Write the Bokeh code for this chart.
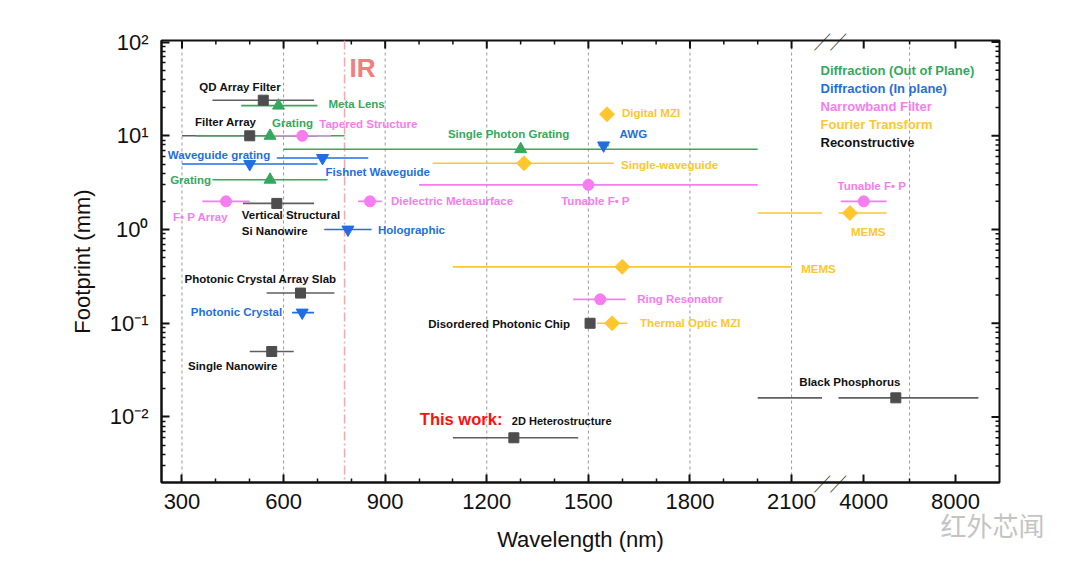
import math
from bokeh.plotting import figure
from bokeh.models import FixedTicker, Range1d, Label, Span
from bokeh.embed import file_html
from bokeh.resources import INLINE

# ---------------- data ----------------
# Reconstructive (squares)
rec_names = ["QD Array Filter", "Filter Array", "Vertical Structural\nSi Nanowire",
             "Photonic Crystal Array Slab", "Single Nanowire", "Disordered Photonic Chip",
             "2D Heterostructure", "Black Phosphorus"]
rec_wl = [540, 500, 580, 650, 565, 1505, 1280, 5400]
rec_lo = [390, 300, 480, 550, 500, 1490, 1100, 2000]
rec_hi = [690, 700, 690, 750, 630, 1520, 1470, 9000]
rec_fp = [24, 10, 1.9, 0.21, 0.05, 0.1, 0.006, 0.016]

# Diffraction (Out of Plane) (triangles)
dop_names = ["Meta Lens", "Grating", "Single Photon Grating", "Grating"]
dop_wl = [585, 560, 1300, 560]
dop_lo = [475, 340, 600, 390]
dop_hi = [700, 780, 2000, 730]
dop_fp = [21, 10, 7.2, 3.4]

# Diffraction (In plane) (inverted triangles)
dip_names = ["Waveguide grating", "Fishnet Waveguide", "Holographic", "Photonic Crystal", "AWG"]
dip_wl = [500, 715, 790, 655, 1545]
dip_lo = [300, 580, 720, 625, 1530]
dip_hi = [700, 850, 860, 690, 1560]
dip_fp = [5.0, 5.8, 1.0, 0.13, 7.9]

# Narrowband Filter (circles)
nb_names = ["Tapered Structure", "F\u2022 P Array", "Dielectric Metasurface", "Tunable F\u2022 P",
            "Ring Resonator", "Tunable F\u2022 P"]
nb_wl = [655, 430, 855, 1500, 1535, 4000]
nb_lo = [570, 360, 820, 1000, 1455, 3000]
nb_hi = [740, 500, 890, 2000, 1610, 5000]
nb_fp = [10, 2.0, 2.0, 3.0, 0.18, 2.0]

# Fourier Transform (diamonds)
ft_names = ["Digital MZI", "Single-waveguide", "MEMS", "MEMS", "Thermal Optic MZI"]
ft_wl = [1555, 1310, 1600, 3400, 1570]
ft_lo = [1555, 1040, 1100, 2000, 1525]
ft_hi = [1555, 1575, 2100, 5000, 1615]
ft_fp = [17, 5.1, 0.4, 1.5, 0.1]

legend_names = ["Diffraction (Out of Plane)", "Diffraction (In plane)", "Narrowband Filter",
                "Fourier Transform", "Reconstructive"]
x_major_left = [300, 600, 900, 1200, 1500, 1800, 2100]
x_major_right = [4000, 8000]
x_grid_right = [6000]
y_decades = [-2, -1, 0, 1, 2]
y_labels = ["10\u207b\u00b2", "10\u207b\u00b9", "10\u2070", "10\u00b9", "10\u00b2"]
ir_edge = 780

# ---------------- styling / layout ----------------
GREEN = "#35a85e"
BLUE = "#1f6fe0"
PINK = "#f77cf0"
GOLD = "#ffc62e"
DARK = "#4d4d4d"
INK = "#111111"
FONT = "Liberation Sans"

# broken axis mapping
LEFT_MAX = 2190
RIGHT_MIN = 2900
R_REF = 4000
R_POS = 2313
R_K = 271 / 4000


def xm(wl):
    if wl <= LEFT_MAX:
        return wl
    return R_POS + (wl - R_REF) * R_K


X0, X1 = 239.5, 2714.0
Y0, Y1 = 0.002, 104.0
FW, FH = 838, 442
ML, MT, MR, MB = 161, 40, 73, 82
LY0, LY1 = math.log10(Y0), math.log10(Y1)


def xdata(px):
    return X0 + px / FW * (X1 - X0)


def ydata(py):
    return 10 ** (LY0 + py / FH * (LY1 - LY0))


p = figure(width=ML + FW + MR, height=MT + FH + MB, output_backend="svg",
           toolbar_location=None, y_axis_type="log",
           x_range=Range1d(X0, X1), y_range=Range1d(Y0, Y1))
p.min_border_left = ML
p.min_border_right = MR
p.min_border_top = MT
p.min_border_bottom = MB
p.outline_line_color = INK
p.outline_line_width = 2
p.background_fill_color = "white"
p.border_fill_color = "white"
p.grid.visible = False

x_major_all = x_major_left + x_major_right
x_ticks = [xm(v) for v in x_major_all]
x_minor = [xm(v) for v in range(200, 2201, 100) if v not in x_major_left and v <= LEFT_MAX] + [xm(6000)]
x_over = {xm(v): str(v) for v in x_major_all}
y_ticks = [10.0 ** e for e in y_decades]
y_minor = [m * 10.0 ** e for e in range(-3, 2) for m in range(2, 10) if Y0 < m * 10.0 ** e < Y1]
y_over = {t: s for t, s in zip(y_ticks, y_labels)}


def style_axis(ax):
    ax.axis_line_width = 2
    ax.axis_line_color = INK
    ax.major_tick_in = 8
    ax.major_tick_out = 0
    ax.minor_tick_in = 4
    ax.minor_tick_out = 0
    ax.major_tick_line_width = 2
    ax.minor_tick_line_width = 1.5
    ax.major_tick_line_color = INK
    ax.minor_tick_line_color = INK
    ax.major_label_text_font = FONT
    ax.major_label_text_color = INK
    ax.axis_label_text_font = FONT
    ax.axis_label_text_font_style = "normal"
    ax.axis_label_text_font_size = "22px"
    ax.axis_label_text_color = INK


ax = p.xaxis[0]
style_axis(ax)
ax.ticker = FixedTicker(ticks=x_ticks, minor_ticks=x_minor)
ax.major_label_overrides = x_over
ax.major_label_text_font_size = "22px"
ax.major_label_standoff = 11
ax.axis_label = "Wavelength (nm)"
ax.axis_label_standoff = 15

ay = p.yaxis[0]
style_axis(ay)
ay.ticker = FixedTicker(ticks=y_ticks, minor_ticks=y_minor)
ay.major_label_overrides = y_over
ay.major_label_text_font_size = "22px"
ay.major_label_standoff = 13
ay.axis_label = "Footprint (mm)"
ay.axis_label_standoff = 12

# top ticks
p.segment(x0=x_ticks, x1=x_ticks, y0=[Y1] * len(x_ticks), y1=[ydata(FH - 8)] * len(x_ticks),
          line_color=INK, line_width=2)
p.segment(x0=x_minor, x1=x_minor, y0=[Y1] * len(x_minor), y1=[ydata(FH - 4)] * len(x_minor),
          line_color=INK, line_width=1.5)
# right ticks
p.segment(x0=[X1] * len(y_ticks), x1=[xdata(FW - 8)] * len(y_ticks), y0=y_ticks, y1=y_ticks,
          line_color=INK, line_width=2)
p.segment(x0=[X1] * len(y_minor), x1=[xdata(FW - 4)] * len(y_minor), y0=y_minor, y1=y_minor,
          line_color=INK, line_width=1.5)

# grid lines
for v in x_major_left + x_grid_right:
    p.add_layout(Span(location=xm(v), dimension="height", line_color="#9a9a9a",
                      line_dash="3 3", line_width=1, level="underlay"))
p.add_layout(Span(location=xm(ir_edge), dimension="height", line_color="#f7a9a9",
                  line_dash="9 3 2 3", line_width=1.5, level="underlay"))
p.add_layout(Label(x=xm(ir_edge), y=FH - 27, y_units="screen", x_offset=5, text="IR",
                   text_font=FONT, text_font_style="bold", text_font_size="26px",
                   text_color="#f27d7d", text_baseline="middle"))

series = [
    (rec_names, rec_wl, rec_lo, rec_hi, rec_fp, DARK, "#5f5f5f", "square", 10, 0),
    (dop_names, dop_wl, dop_lo, dop_hi, dop_fp, GREEN, GREEN, "triangle", 12, 0),
    (dip_names, dip_wl, dip_lo, dip_hi, dip_fp, BLUE, BLUE, "inverted_triangle", 12, 0),
    (nb_names, nb_wl, nb_lo, nb_hi, nb_fp, PINK, PINK, "circle", 11, 0),
    (ft_names, ft_wl, ft_lo, ft_hi, ft_fp, GOLD, GOLD, "square", 10.5, math.pi / 4),
]

# label layout: (align, dx px, dy px downwards)
label_layout = [
    [("center", -23, -13), ("center", -24, -14), ("left", -35, 12), ("center", -40, -14),
     ("center", -39, 15), ("right", -20, 1), ("left", -2, -17), ("center", -46, -16)],
    [("left", 50, -2), ("left", 2, -13), ("center", -12, -15), ("right", -59, 0)],
    [("left", -82, -9), ("left", 3, 14), ("left", 30, 0), ("right", -20, -1), ("left", 16, -11)],
    [("left", 17, -12), ("left", -53, 16), ("left", 21, 0), ("center", 7, 16), ("left", 37, 0),
     ("center", 8, -15)],
    [("left", 15, -1), ("left", 97, 2), ("left", 179, 2), ("left", 1, 19), ("left", 28, 0)],
]

# error bars
for names, wl, lo, hi, fp, mc, lc, mk, sz, ang in series:
    x0s, x1s, ys = [], [], []
    for a, b, y in zip(lo, hi, fp):
        if a == b:
            continue
        if a <= LEFT_MAX and b > LEFT_MAX:
            x0s += [xm(a), xm(RIGHT_MIN)]
            x1s += [xm(LEFT_MAX), xm(b)]
            ys += [y, y]
        else:
            x0s.append(xm(a))
            x1s.append(xm(b))
            ys.append(y)
    p.segment(x0=x0s, x1=x1s, y0=ys, y1=ys, line_color=lc, line_width=1.6)

# markers and labels
for (names, wl, lo, hi, fp, mc, lc, mk, sz, ang), lay in zip(series, label_layout):
    p.scatter(x=[xm(v) for v in wl], y=fp, marker=mk, size=sz, angle=ang,
              fill_color=mc, line_color=mc)
    for name, w, f, (al, dx, dy) in zip(names, wl, fp, lay):
        small = name == "2D Heterostructure"
        for k, line in enumerate(name.split("\n")):
            p.add_layout(Label(x=xm(w), y=f, x_offset=dx, y_offset=-(dy + 16 * k), text=line,
                               text_align=al, text_baseline="middle", text_font=FONT,
                               text_font_style="bold",
                               text_font_size="11px" if small else "11.5px",
                               text_color=mc if mc != DARK else INK))

# "This work:"
p.add_layout(Label(x=xm(rec_wl[6]), y=rec_fp[6], x_offset=-94, y_offset=19, text="This work:",
                   text_align="left", text_baseline="middle", text_font=FONT,
                   text_font_style="bold", text_font_size="16.5px", text_color="#ff1010"))

# legend text
for i, (nm, c) in enumerate(zip(legend_names, [GREEN, BLUE, PINK, GOLD, INK])):
    p.add_layout(Label(x=659, y=412 - 18 * i, x_units="screen", y_units="screen", text=nm,
                       text_font=FONT, text_font_style="bold", text_font_size="13px",
                       text_color=c, text_baseline="middle"))

# axis break marks (hosted in the spare right panel so they can cross the frame edge)
x_break = (xm(LEFT_MAX) + xm(RIGHT_MIN)) / 2
for yb in [Y0, Y1]:
    p.add_layout(Label(x=x_break, y=yb, text="\u2571\u2571", text_align="center",
                       text_baseline="middle", text_font="Noto Sans CJK SC",
                       text_font_size="16px", text_color=INK), "right")

# watermark (hosted in the spare top panel, drawn below the plot)
p.add_layout(Label(x=831, y=-484, x_units="screen", y_units="screen", text="\u7ea2\u5916\u82af\u95fb",
                   text_align="center", text_baseline="middle", text_font="Noto Sans CJK SC",
                   text_font_size="26px", text_color="#c4c4c4"), "above")

open("out.html", "w").write(file_html(p, INLINE))
